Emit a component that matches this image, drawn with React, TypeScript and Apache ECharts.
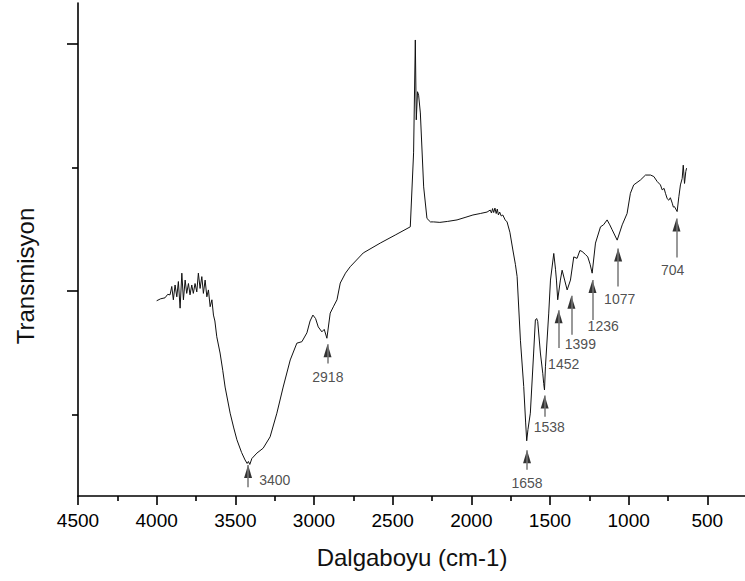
import React, { useEffect, useRef } from "react";
import * as echarts from "echarts";

// FTIR spectrum: [wavenumber (cm-1), transmission (arbitrary units)]
const spectrum: [number, number][] = [
  [4000, 39.6], [3975, 40.0], [3947, 40.2], [3930, 40.9], [3915, 40.8], [3904, 42.5],
  [3894, 39.8], [3883, 42.8], [3872, 40.4], [3862, 43.5], [3851, 38.1], [3840, 45.2],
  [3830, 39.8], [3819, 43.8], [3809, 41.1], [3798, 43.1], [3788, 40.8], [3777, 42.8],
  [3767, 41.1], [3756, 43.1], [3745, 41.4], [3735, 45.2], [3724, 42.1], [3713, 44.5],
  [3703, 41.1], [3692, 43.8], [3681, 40.4], [3671, 41.8], [3660, 38.4], [3649, 39.8],
  [3639, 36.7], [3630, 35.5], [3618, 32.3], [3597, 29.0], [3580, 25.5], [3565, 22.1],
  [3533, 16.8], [3510, 13.8], [3490, 11.4], [3460, 8.8], [3438, 7.3], [3425, 6.6],
  [3417, 7.0], [3408, 6.4], [3395, 7.6], [3363, 8.7], [3323, 9.7], [3279, 12.0],
  [3236, 16.8], [3196, 22.1], [3151, 27.6], [3109, 31.0], [3077, 31.3], [3045, 33.1],
  [3025, 35.5], [3007, 36.7], [2990, 36.0], [2973, 34.3], [2950, 33.3], [2935, 33.8],
  [2918, 32.0], [2897, 37.1], [2875, 38.5], [2854, 39.8], [2833, 43.2], [2800, 45.2],
  [2770, 46.5], [2687, 49.3], [2579, 51.3], [2480, 53.0], [2388, 54.6], [2367, 69.6],
  [2356, 92.5], [2350, 76.3], [2342, 82.0], [2335, 81.3], [2324, 77.7], [2303, 62.7],
  [2282, 56.3], [2260, 55.6], [2240, 55.6], [2200, 55.5], [2150, 55.7], [2091, 56.0],
  [2040, 56.5], [1990, 57.0], [1943, 57.3], [1900, 57.6], [1880, 58.0], [1872, 57.4],
  [1865, 58.3], [1858, 57.5], [1850, 58.4], [1842, 57.3], [1835, 58.2], [1828, 57.0],
  [1820, 57.6], [1810, 56.8], [1800, 57.0], [1785, 56.0], [1773, 55.6], [1755, 53.5],
  [1736, 49.9], [1720, 47.0], [1709, 44.5], [1688, 31.6], [1667, 22.2], [1655, 15.0],
  [1648, 11.2], [1640, 13.5], [1625, 16.8], [1604, 29.0], [1593, 35.7], [1585, 36.0],
  [1578, 35.4], [1561, 29.0], [1546, 24.9], [1540, 22.8], [1535, 21.5], [1529, 26.2],
  [1508, 37.1], [1497, 43.8], [1476, 49.2], [1465, 46.0], [1459, 43.8], [1451, 39.8],
  [1434, 43.8], [1423, 45.8], [1407, 43.8], [1391, 41.8], [1370, 43.8], [1349, 48.5],
  [1328, 48.2], [1310, 49.8], [1296, 49.6], [1275, 49.0], [1260, 48.5], [1245, 47.0],
  [1232, 45.2], [1211, 51.3], [1179, 54.6], [1160, 55.0], [1137, 56.0], [1120, 55.0],
  [1105, 54.0], [1073, 51.9], [1041, 55.0], [1010, 57.3], [989, 61.4], [968, 63.1],
  [925, 64.1], [893, 65.1], [861, 65.1], [840, 64.8], [819, 63.8], [798, 63.1],
  [787, 62.1], [775, 62.4], [766, 61.4], [755, 60.3], [745, 60.0], [735, 60.5],
  [723, 59.4], [716, 58.6], [709, 58.7], [692, 57.7], [681, 60.7], [671, 63.1],
  [660, 64.4], [653, 67.1], [645, 63.4], [637, 65.8], [632, 66.5],
];

// Peak annotations
const annLabels = ["3400", "2918", "1658", "1538", "1452", "1399", "1236", "1077", "704"];
const annX = [3419, 2914, 1646, 1534, 1445, 1364, 1230, 1067, 696];
const annTipY = [6.3, 30.8, 9.3, 20.4, 37.7, 40.6, 43.8, 50.2, 56.3];
const annTailY = [1.8, 26.9, 5.3, 16.1, 30.0, 32.7, 35.7, 42.5, 48.4];
const annLabelX = [3249, 2912, 1646, 1505, 1413, 1307, 1162, 1057, 720];
const annLabelY = [3.2, 24.1, 2.7, 13.9, 26.7, 30.8, 34.5, 39.9, 45.8];

// Axis ticks
const xMin = 0;
const xMax = 4500;
const xInterval = 500;
const yMin = 0;
const yMax = 100;
const yMajorTicks = [41.6, 91.7];
const yMinorTicks = [16.4, 66.5];

const FONT = "'Liberation Sans', Arial, sans-serif";

export default function App() {
  const ref = useRef<HTMLDivElement>(null);

  useEffect(() => {
    if (!ref.current) return;
    const chart = echarts.init(ref.current, undefined, { renderer: "svg" });

    const shafts = annX.map((x, i) => [
      { coord: [x, annTailY[i]] },
      { coord: [x, annTipY[i]] },
    ]);

    const yAxisBase = {
      type: "value",
      min: yMin,
      max: yMax,
      position: "left",
      offset: 0,
      splitLine: { show: false },
      axisLabel: { show: false },
    };

    chart.setOption({
      animation: false,
      backgroundColor: "#ffffff",
      grid: {
        left: 78,
        width: 708,
        top: 3,
        bottom: 85,
        containLabel: false,
        outerBoundsMode: "none",
      },
      xAxis: {
        type: "value",
        min: xMin,
        max: xMax,
        interval: xInterval,
        inverse: true,
        axisLine: { show: true, onZero: false, lineStyle: { color: "#000", width: 1.6 } },
        axisTick: { show: true, length: 9, lineStyle: { color: "#000", width: 1.6 } },
        minorTick: { show: true, splitNumber: 2, length: 5, lineStyle: { color: "#000", width: 1.6 } },
        splitLine: { show: false },
        axisLabel: {
          color: "#000",
          fontSize: 19,
          fontFamily: FONT,
          margin: 15,
          showMinLabel: false,
          formatter: (v: number) => (v === 0 ? "" : String(v)),
        },
      },
      yAxis: [
        {
          ...yAxisBase,
          axisLine: { show: true, onZero: false, lineStyle: { color: "#000", width: 1.6 } },
          axisTick: { show: true, length: 11, customValues: yMajorTicks, lineStyle: { color: "#000", width: 1.6 } },
        },
        {
          ...yAxisBase,
          axisLine: { show: false, onZero: false },
          axisTick: { show: true, length: 6, customValues: yMinorTicks, lineStyle: { color: "#000", width: 1.6 } },
        },
      ],
      graphic: [
        {
          type: "text",
          x: 412,
          y: 557,
          style: {
            text: "Dalgaboyu (cm-1)",
            fontSize: 24,
            fontFamily: FONT,
            fill: "#111",
            align: "center",
            verticalAlign: "middle",
          },
        },
        {
          type: "text",
          x: 25,
          y: 276,
          rotation: Math.PI / 2,
          style: {
            text: "Transmisyon",
            fontSize: 24,
            fontFamily: FONT,
            fill: "#111",
            align: "center",
            verticalAlign: "middle",
          },
        },
      ],
      series: [
        {
          type: "line",
          data: spectrum,
          showSymbol: false,
          symbol: "none",
          lineStyle: { color: "#111", width: 1 },
          silent: true,
          markLine: {
            silent: true,
            symbol: ["none", "none"],
            lineStyle: { color: "#777", width: 1.5, type: "solid" },
            label: { show: false },
            data: shafts,
          },
        },
        {
          type: "scatter",
          data: annX.map((x, i) => [x, annTipY[i]]),
          symbol: "triangle",
          symbolSize: [8, 13],
          symbolOffset: [0, "50%"],
          itemStyle: { color: "#000" },
          silent: true,
        },
        {
          type: "scatter",
          data: annLabelX.map((x, i) => ({ name: annLabels[i], value: [x, annLabelY[i]] })),
          symbolSize: 0,
          silent: true,
          label: {
            show: true,
            position: "inside",
            formatter: "{b}",
            color: "#222",
            fontSize: 14,
            fontFamily: FONT,
          },
        },
      ],
    });

    return () => chart.dispose();
  }, []);

  return (
    <div
      ref={ref}
      style={{ position: "fixed", left: 0, top: 0, width: 745, height: 581, background: "#fff" }}
    />
  );
}
